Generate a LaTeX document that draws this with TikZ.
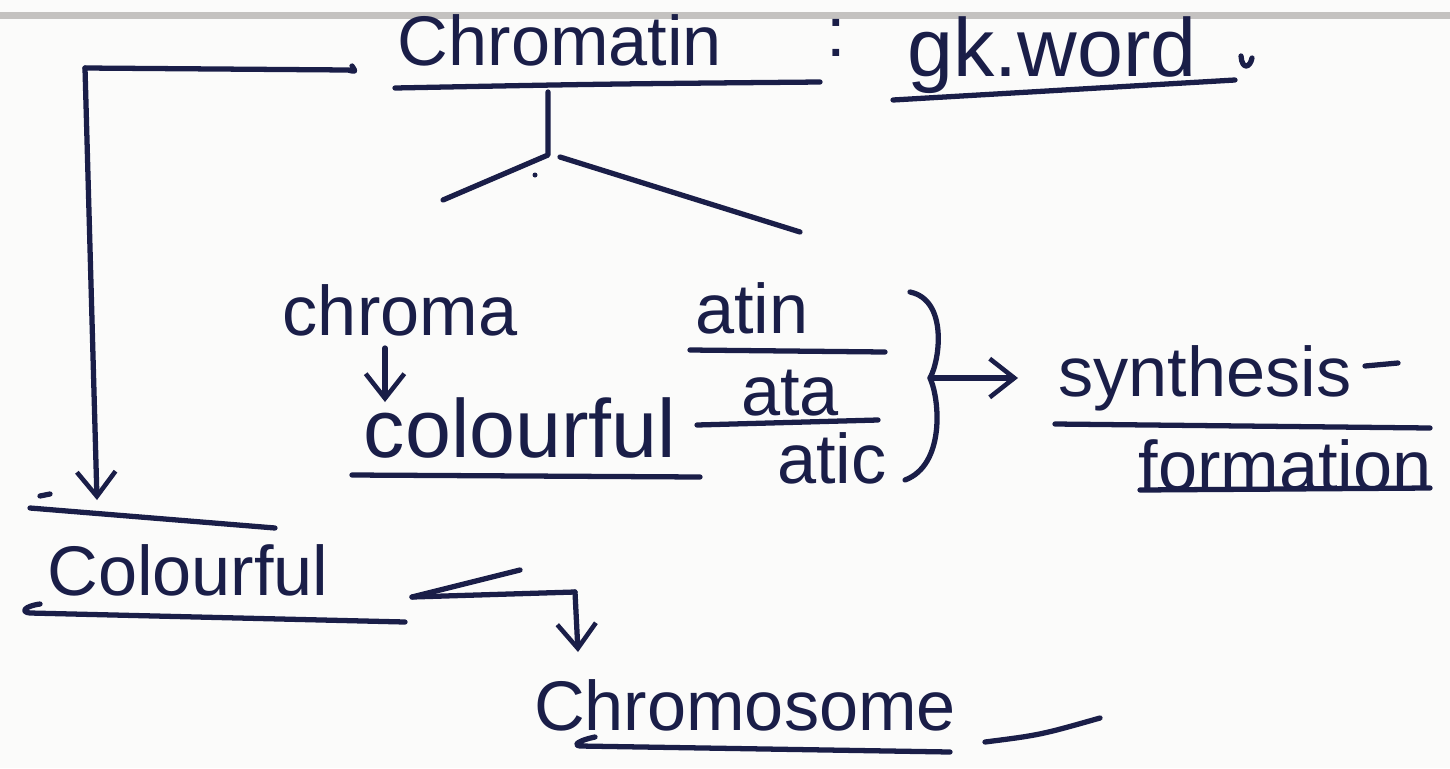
\documentclass[tikz,border=0pt]{standalone}
\usepackage{fontspec}
\setmainfont{Liberation Sans}
\usetikzlibrary{arrows.meta}
\definecolor{ink}{HTML}{1A1E48}
\definecolor{paper}{HTML}{FBFBFA}
\definecolor{edge}{HTML}{C4C2C0}

\begin{document}
\begin{tikzpicture}[x=0.02cm,y=-0.02cm,
  inkline/.style={draw=ink,line width=3pt,line cap=round,line join=round},
  word/.style={text=ink,font=\fontsize{40}{44}\selectfont,inner sep=0pt,anchor=center},
  bigword/.style={word,font=\fontsize{47}{50}\selectfont},
  barb/.style={-{Straight Barb[length=14pt,width=22pt,line width=2.6pt]}}]

% sheet of paper with its top edge
\fill[paper] (0,0) rectangle (1450,768);
\fill[edge] (0,12) rectangle (1450,19);
\useasboundingbox (0,0) rectangle (1450,768);

% words
\node[word] (chromatin)  at (560,40)  {Chromatin};
\node[word] (colon)      at (836,38)  {:};
\node[bigword] (gkword)  at (1052,55) {gk.word};
\node[word] (chroma)     at (400,310) {chroma};
\node[bigword] (colourful) at (520,428) {colourful};
\node[word] (atin)       at (752,308) {atin};
\node[word] (ata)        at (790,393) {ata};
\node[word] (atic)       at (832,458) {atic};
\node[word] (synth)      at (1205,378) {synthesis};
\node[word] (form)       at (1285,465) {formation};
\node[word] (Colourful)  at (188,570) {Colourful};
\node[word] (chromosome) at (745,705) {Chromosome};

% underlines and fraction bars
\draw[inkline] (395,88) .. controls (600,84) .. (820,82);
\draw[inkline] (893,100) -- (1235,80);
\draw[inkline] (690,350) -- (885,352);
\draw[inkline] (697,425) -- (878,420);
\draw[inkline] (352,475) -- (700,477);
\draw[inkline] (1055,424) -- (1430,428);
\draw[inkline] (1140,490) -- (1430,488);
\draw[inkline] (30,508) -- (275,528);
\draw[inkline] (40,604) .. controls (25,606) and (20,612) .. (30,613) -- (405,622);
\draw[inkline] (595,737) .. controls (580,740) and (572,745) .. (580,746) -- (950,752);

% small pen marks
\draw[inkline] (1241,56) .. controls (1242,70) and (1250,68) .. (1252,58);
\draw[inkline] (1365,366) -- (1398,363);
\draw[inkline] (40,496) -- (50,494);
\draw[inkline] (985,742) .. controls (1040,735) .. (1100,718);

% chromatin splits into its two parts
\coordinate (stem) at (548,155);
\draw[inkline] (548,92) -- (stem) -- (443,200);
\draw[inkline] (560,157) -- (800,232);
\fill[ink] (535,175) circle (2.5);

% chroma means colourful
\draw[inkline,barb] (385,348) -- (385,402);

% the three endings grouped by a brace
\coordinate (bracetip) at (930,378);
\draw[inkline] (910,292) .. controls (948,300) and (940,360) .. (bracetip)
               .. controls (940,400) and (945,465) .. (905,480);
\draw[inkline,barb] (bracetip) -- (1018,378);

% chromatin leads to Colourful
\coordinate (topleft) at (85,68);
\draw[inkline] (352,66) .. controls (356,72) .. (348,70) -- (topleft);
\draw[inkline,barb] (topleft) -- (97,500);

% Colourful and Chromosome
\coordinate (bend) at (575,592);
\draw[inkline] (412,597) -- (bend);
\draw[inkline] (412,597) .. controls (460,585) .. (520,570);
\draw[inkline,barb] (bend) -- (578,652);
\end{tikzpicture}
\end{document}
